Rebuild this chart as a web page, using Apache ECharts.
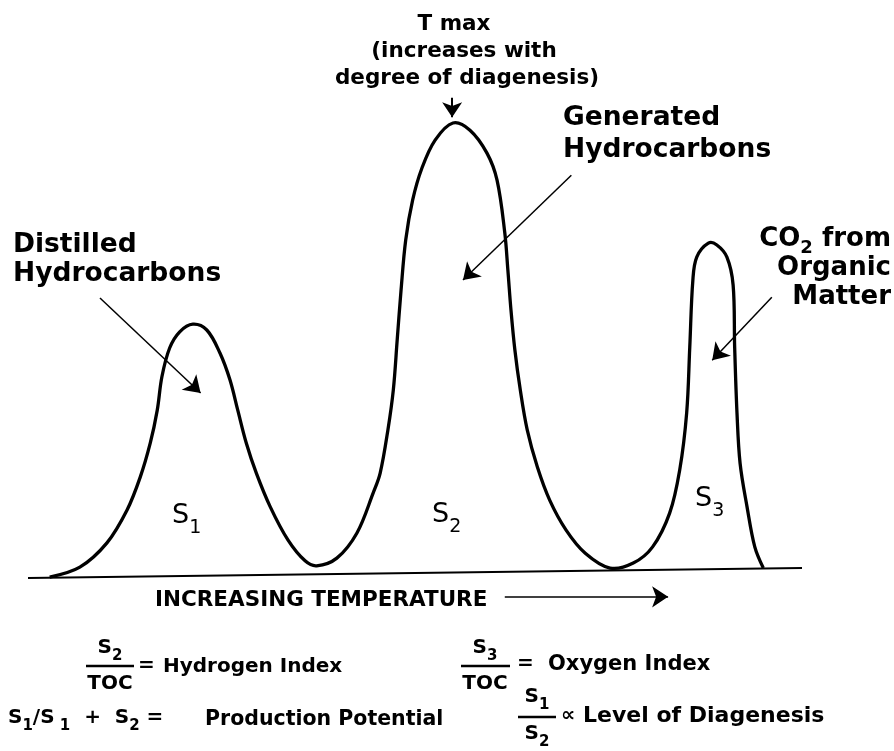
<!DOCTYPE html>
<html>
<head>
<meta charset="utf-8">
<script src="https://cdn.jsdelivr.net/npm/echarts@6/dist/echarts.min.js"></script>
<style>
  html, body { margin: 0; padding: 0; background: #fff; }
  #chart { width: 894px; height: 751px; }
</style>
</head>
<body>
<div id="chart"></div>
<script>
// Rock-Eval pyrolysis trace: temperature (0-100, arbitrary) vs signal (S2 peak ~ 100)
var temp = [2.8, 6.7, 10.2, 12.8, 14.5, 15.8, 16.7, 17.3, 18.3, 19.6, 21.3, 23.1, 24.8, 26.1, 27.1, 28.2, 29.5, 31.3,
            33.6, 35.8, 37.3, 39.9, 42.5, 44.6, 45.5, 46.5, 47.2, 47.7, 48.2, 48.8, 49.7, 50.9, 52.6, 54.9, 57.1, 59.3,
            60.6, 61.6, 62.0, 62.4, 62.9, 63.6, 64.5, 65.8, 67.4, 69.5, 72.0, 75.2, 78.2, 80.7, 82.9, 84.2, 85.1, 85.5,
            85.9, 86.4, 87.9, 89.0, 90.3, 91.1, 91.3, 91.6, 92.0, 92.9, 93.9, 95.0];
var signal = [-0.9, 1.3, 6.7, 14.0, 21.3, 28.9, 36.2, 43.6, 50.0, 53.6, 55.3, 54.0, 48.9, 42.9, 36.2, 28.9, 22.2, 14.7,
              7.3, 2.7, 1.6, 3.3, 8.9, 17.8, 22.2, 31.8, 40.7, 51.8, 62.9, 74.0, 82.9, 90.0, 96.2, 100.0, 98.4, 93.3,
              87.3, 75.6, 67.3, 58.4, 49.6, 40.7, 31.8, 23.6, 16.2, 9.6, 4.4, 1.1, 2.2, 5.8, 13.3, 22.9, 35.6, 50.2,
              65.1, 70.2, 73.3, 72.9, 70.2, 64.0, 50.2, 35.6, 24.4, 14.7, 5.8, 1.1];

// baseline (slightly tilted in the original)
var baseTemp = [0, 100];
var baseSignal = [-1.1, 1.1];

// pointer arrows: [start, tip]
var arrowDistilled = [[9.3, 61.1], [22.3, 40.0]];
var arrowGenerated = [[70.2, 88.4], [56.2, 65.1]];
var arrowCO2 = [[96.1, 61.3], [88.4, 47.3]];
var arrowTmax = [[54.8, 105.6], [54.8, 101.3]];
var arrowTemp = [[61.6, -5.3], [82.7, -5.3]];

var FONT = 'DejaVu Sans';

var chart = echarts.init(document.getElementById('chart'));

function rich(size, subSize, drop, weight) {
  return {
    b: { fontFamily: FONT, fontWeight: weight || 'bold', fontSize: size, verticalAlign: 'bottom', padding: [0, 0, drop, 0], lineHeight: size + drop },
    sub: { fontFamily: FONT, fontWeight: weight || 'bold', fontSize: subSize, verticalAlign: 'bottom', lineHeight: subSize }
  };
}

function label(x, y, text, size, align, lh) {
  return {
    type: 'text', x: x, y: y, silent: true,
    style: {
      text: text, fill: '#000', fontFamily: FONT, fontWeight: 'bold', fontSize: size,
      align: align || 'left', verticalAlign: 'middle', lineHeight: lh || size
    }
  };
}

function richLabel(x, y, text, r, align) {
  return {
    type: 'text', x: x, y: y, silent: true,
    style: { text: text, fill: '#000', align: align || 'left', verticalAlign: 'middle', rich: r }
  };
}

function bar(x1, x2, y) {
  return { type: 'line', silent: true, shape: { x1: x1, y1: y, x2: x2, y2: y }, style: { stroke: '#000', lineWidth: 2.5 } };
}

var rF = rich(20, 15, 6);
var rS = rich(27, 19, 8, 'normal');

var co2Rich = {
  b: { fontFamily: FONT, fontWeight: 'bold', fontSize: 26, lineHeight: 29, verticalAlign: 'bottom', padding: [0, 0, 5, 0] },
  sub: { fontFamily: FONT, fontWeight: 'bold', fontSize: 18, lineHeight: 29, verticalAlign: 'bottom' }
};

var option = {
  animation: false,
  backgroundColor: '#fff',
  grid: { left: 28, top: 33, width: 774, height: 585 },
  xAxis: { type: 'value', min: 0, max: 100, show: false },
  yAxis: { type: 'value', min: -10, max: 120, show: false },
  series: [
    {
      type: 'line',
      data: baseTemp.map(function (t, i) { return [t, baseSignal[i]]; }),
      showSymbol: false, silent: true,
      lineStyle: { color: '#000', width: 2 }
    },
    {
      // trace drawn as one smooth path through the read points
      type: 'custom',
      coordinateSystem: 'cartesian2d',
      silent: true,
      data: temp.map(function (t, i) { return [t, signal[i]]; }),
      renderItem: function (params, api) {
        if (params.dataIndex !== 0) return null;
        var pts = temp.map(function (t, i) { return api.coord([t, signal[i]]); });
        return {
          type: 'polyline',
          shape: { points: pts, smooth: 0.35 },
          style: { stroke: '#000', lineWidth: 3.3, fill: null, lineJoin: 'round' }
        };
      }
    },
    {
      type: 'lines',
      coordinateSystem: 'cartesian2d',
      silent: true,
      symbol: ['none', 'arrow'],
      symbolSize: 16,
      lineStyle: { color: '#000', width: 1.5, opacity: 1, curveness: 0 },
      data: [arrowDistilled, arrowGenerated, arrowCO2, arrowTemp].map(function (c) { return { coords: c }; })
    },
    {
      type: 'lines',
      coordinateSystem: 'cartesian2d',
      silent: true,
      symbol: ['none', 'arrow'],
      symbolSize: 15,
      lineStyle: { color: '#000', width: 2, opacity: 1 },
      data: [{ coords: arrowTmax }]
    }
  ],
  graphic: [
    label(454, 24, 'T max', 21.5, 'center'),
    label(464, 51, '(increases with', 21.5, 'center'),
    label(467, 78, 'degree of diagenesis)', 21.5, 'center'),
    label(563, 134, 'Generated\nHydrocarbons', 26.5, 'left', 32),
    label(13, 260, 'Distilled\nHydrocarbons', 26.5, 'left', 29),
    richLabel(891, 272, '{b|CO}{sub|2}{b| from}\n{b|Organic}\n{b|Matter}', co2Rich, 'right'),

    richLabel(172, 520, '{b|S}{sub|1}', rS),
    richLabel(432, 519, '{b|S}{sub|2}', rS),
    richLabel(695, 503, '{b|S}{sub|3}', rS),

    label(155, 600, 'INCREASING TEMPERATURE', 21.5),

    richLabel(110, 651, '{b|S}{sub|2}', rF, 'center'),
    bar(86, 134, 666),
    label(110, 684, 'TOC', 20, 'center'),
    label(138, 666, '=', 20),
    label(163, 667, 'Hydrogen Index', 20),

    richLabel(485, 651, '{b|S}{sub|3}', rF, 'center'),
    bar(461, 510, 666),
    label(485, 684, 'TOC', 20, 'center'),
    label(517, 664, '=', 20),
    label(548, 665, 'Oxygen Index', 21),

    richLabel(8, 721, '{b|S}{sub|1}{b|/S}{sub| 1}{b|  +  S}{sub|2}{b| =}', rF),
    label(205, 720, 'Production Potential', 20.5),

    richLabel(537, 700, '{b|S}{sub|1}', rF, 'center'),
    bar(518, 556, 717),
    richLabel(537, 737, '{b|S}{sub|2}', rF, 'center'),
    label(561, 716, '\u221d', 20),
    label(583, 716, 'Level of Diagenesis', 22)
  ]
};

chart.setOption(option);
</script>
</body>
</html>
